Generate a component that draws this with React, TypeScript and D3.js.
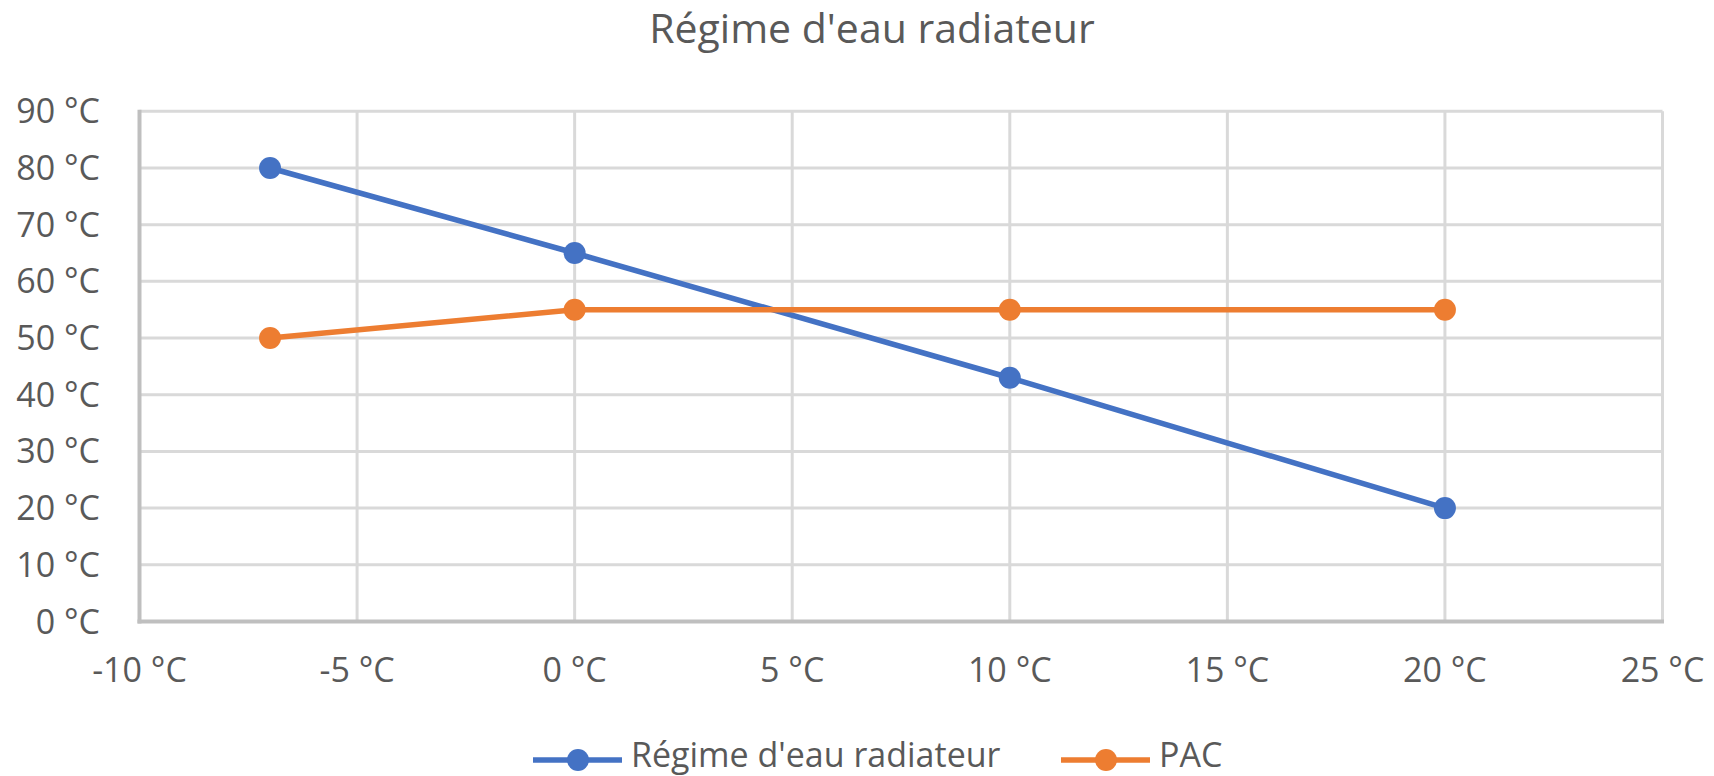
import React, { useEffect, useRef } from "react";
import * as d3 from "d3";

// values
const title = "Régime d'eau radiateur";
const outdoorTemps = [-7, 0, 10, 20];
const regimeValues = [80, 65, 43, 20];
const pacValues = [50, 55, 55, 55];
const xTicks = [-10, -5, 0, 5, 10, 15, 20, 25];
const xTickLabels = ["-10 °C", "-5 °C", "0 °C", "5 °C", "10 °C", "15 °C", "20 °C", "25 °C"];
const yTicks = [0, 10, 20, 30, 40, 50, 60, 70, 80, 90];
const yTickLabels = ["0 °C", "10 °C", "20 °C", "30 °C", "40 °C", "50 °C", "60 °C", "70 °C", "80 °C", "90 °C"];
const seriesNames = ["Régime d'eau radiateur", "PAC"];

const App = () => {
    const ref = useRef<SVGSVGElement | null>(null);

    useEffect(() => {
        const width = 1714;
        const height = 776;
        const font = "'Open Sans', 'Noto Sans', sans-serif";
        const textColor = "#595959";
        const colors = ["#4472C4", "#ED7D31"];

        const svg = d3.select(ref.current);
        svg.selectAll("*").remove();
        svg.attr("width", width).attr("height", height);

        const x = d3.scaleLinear().domain([-10, 25]).range([139.5, 1662.5]);
        const y = d3.scaleLinear().domain([0, 90]).range([621.5, 111.3]);

        // grid
        const grid = svg.append("g");
        grid.selectAll("line.h")
            .data(yTicks.filter((d) => d > 0))
            .enter()
            .append("line")
            .attr("x1", x(-10))
            .attr("x2", x(25))
            .attr("y1", (d) => y(d))
            .attr("y2", (d) => y(d))
            .attr("stroke", "#d9d9d9")
            .attr("stroke-width", 3);
        grid.selectAll("line.v")
            .data(xTicks.filter((d) => d > -10))
            .enter()
            .append("line")
            .attr("x1", (d) => x(d))
            .attr("x2", (d) => x(d))
            .attr("y1", y(0))
            .attr("y2", y(90))
            .attr("stroke", "#d9d9d9")
            .attr("stroke-width", 3);

        // axis lines
        svg.append("line")
            .attr("x1", x(-10)).attr("x2", x(-10))
            .attr("y1", y(0) + 2).attr("y2", y(90) - 1.5)
            .attr("stroke", "#bfbfbf").attr("stroke-width", 4);
        svg.append("line")
            .attr("x1", x(-10) - 2).attr("x2", x(25) + 1.5)
            .attr("y1", y(0)).attr("y2", y(0))
            .attr("stroke", "#bfbfbf").attr("stroke-width", 4);

        // tick labels
        svg.append("g")
            .selectAll("text")
            .data(yTicks)
            .enter()
            .append("text")
            .attr("x", 100)
            .attr("y", (d) => y(d) + 12)
            .attr("text-anchor", "end")
            .attr("fill", textColor)
            .style("font-family", font)
            .style("font-size", "34px")
            .text((d, i) => yTickLabels[i]);

        svg.append("g")
            .selectAll("text")
            .data(xTicks)
            .enter()
            .append("text")
            .attr("x", (d) => x(d))
            .attr("y", 682)
            .attr("text-anchor", "middle")
            .attr("fill", textColor)
            .style("font-family", font)
            .style("font-size", "34px")
            .text((d, i) => xTickLabels[i]);

        // series
        const line = d3.line<[number, number]>()
            .x((d) => x(d[0]))
            .y((d) => y(d[1]));
        const series = [regimeValues, pacValues].map((vals) =>
            outdoorTemps.map((t, i) => [t, vals[i]] as [number, number])
        );
        series.forEach((pts, s) => {
            svg.append("path")
                .attr("d", line(pts))
                .attr("fill", "none")
                .attr("stroke", colors[s])
                .attr("stroke-width", 5.5)
                .attr("stroke-linejoin", "round");
        });
        series.forEach((pts, s) => {
            svg.append("g")
                .selectAll("circle")
                .data(pts)
                .enter()
                .append("circle")
                .attr("cx", (d) => x(d[0]))
                .attr("cy", (d) => y(d[1]))
                .attr("r", 11)
                .attr("fill", colors[s]);
        });

        // title
        svg.append("text")
            .attr("x", 872)
            .attr("y", 43)
            .attr("text-anchor", "middle")
            .attr("fill", textColor)
            .style("font-family", font)
            .style("font-size", "41px")
            .text(title);

        // legend
        const legendX = [533, 1061];
        const legendY = 760;
        seriesNames.forEach((name, s) => {
            const g = svg.append("g").attr("transform", `translate(${legendX[s]},${legendY})`);
            g.append("line")
                .attr("x1", 0).attr("x2", 89)
                .attr("y1", 0).attr("y2", 0)
                .attr("stroke", colors[s])
                .attr("stroke-width", 5.5);
            g.append("circle")
                .attr("cx", 45)
                .attr("cy", 0)
                .attr("r", 11)
                .attr("fill", colors[s]);
            g.append("text")
                .attr("x", 98)
                .attr("y", 7)
                .attr("fill", textColor)
                .style("font-family", font)
                .style("font-size", "34px")
                .text(name);
        });
    }, []);

    return (
        <svg
            ref={ref}
            style={{ position: "absolute", left: 0, top: 0, background: "#fff" }}
        ></svg>
    );
};

export default App;
